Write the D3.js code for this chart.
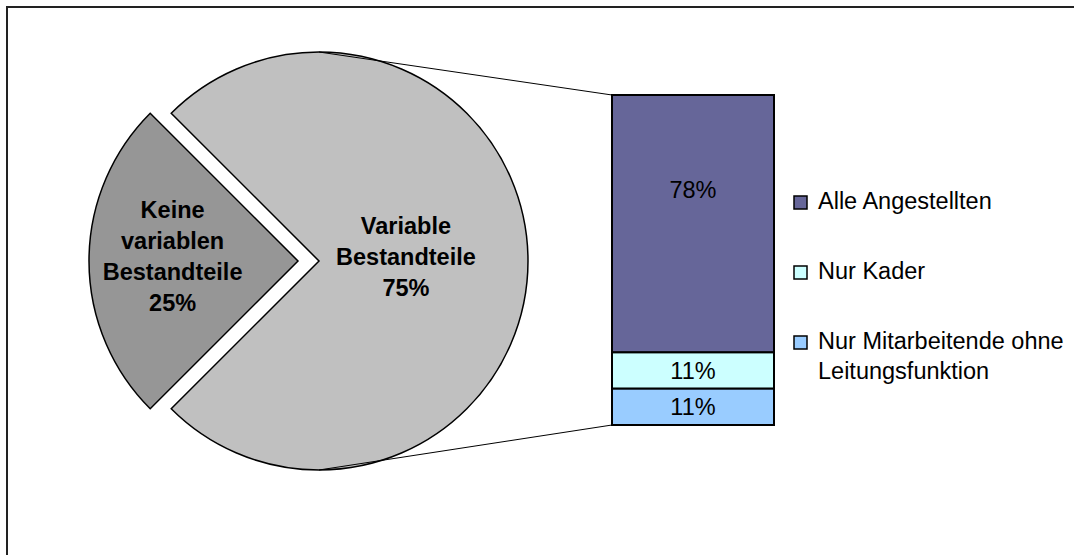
<!DOCTYPE html>
<html>
<head>
<meta charset="utf-8">
<script src="https://cdn.jsdelivr.net/npm/d3@7"></script>
<style>
  html, body { margin: 0; padding: 0; background: #fff; }
  svg { display: block; }
  text { font-family: "Liberation Sans", Arial, sans-serif; }
</style>
</head>
<body>
<svg id="chart" width="1074" height="555"></svg>
<script>
// ---- data ----
const pieCategories = ["Keine variablen Bestandteile", "Variable Bestandteile"];
const pieLabelLines = [["Keine", "variablen", "Bestandteile"], ["Variable", "Bestandteile"]];
const pieValues = [25, 75];
const barCategories = ["Alle Angestellten", "Nur Kader", "Nur Mitarbeitende ohne Leitungsfunktion"];
const barLegendLines = [["Alle Angestellten"], ["Nur Kader"], ["Nur Mitarbeitende ohne", "Leitungsfunktion"]];
const barValues = [78, 11, 11];

// ---- styles ----
const pieColors = ["#969696", "#C0C0C0"];
const barColors = ["#666699", "#CCFFFF", "#99CCFF"];

const svg = d3.select("#chart");

// frame
svg.append("rect")
  .attr("x", 7).attr("y", 7).attr("width", 1200).attr("height", 700)
  .attr("fill", "none").attr("stroke", "#222").attr("stroke-width", 2);

// ---- pie ----
const cx = 319, cy = 261, r = 209;
const explode = 21;
const pie = d3.pie().sort(null)
  .startAngle(5 * Math.PI / 4)
  .endAngle(5 * Math.PI / 4 + 2 * Math.PI);
const arcs = pie(pieValues);
const arc = d3.arc().innerRadius(0).outerRadius(r);

const pieG = svg.append("g").attr("transform", `translate(${cx},${cy})`);
const slice = pieG.selectAll("g.slice").data(arcs).enter().append("g")
  .attr("class", "slice")
  .attr("transform", (d, i) => {
    if (i !== 0) return null;
    const a = (d.startAngle + d.endAngle) / 2;
    return `translate(${Math.sin(a) * explode},${-Math.cos(a) * explode})`;
  });
slice.append("path")
  .attr("d", arc)
  .attr("fill", (d, i) => pieColors[i])
  .attr("stroke", "#000").attr("stroke-width", 1.5)
  .attr("stroke-linejoin", "miter");

const labelRadius = [0.6, 0.416];
const lineH = 31;
slice.each(function (d, i) {
  const a = (d.startAngle + d.endAngle) / 2;
  const lr = labelRadius[i] * r;
  const x = Math.sin(a) * lr;
  const y = -Math.cos(a) * lr - 5;
  const lines = pieLabelLines[i].concat([Math.round(d.data) + "%"]);
  const t = d3.select(this).append("text")
    .attr("text-anchor", "middle")
    .attr("font-weight", "bold")
    .attr("font-size", 23.5)
    .attr("fill", "#000");
  lines.forEach((ln, k) => {
    t.append("tspan")
      .attr("x", x)
      .attr("y", y + (k - (lines.length - 1) / 2) * lineH + 8.5)
      .text(ln);
  });
});

// ---- bar ----
const barX0 = 612, barX1 = 774;
const y = d3.scaleLinear().domain([0, d3.sum(barValues)]).range([95, 425]);
let cum = 0;
const stacks = barValues.map((v, i) => {
  const s = { i, v, y0: cum, y1: cum + v };
  cum += v;
  return s;
});

// connector lines
svg.append("line")
  .attr("x1", cx).attr("y1", cy - r)
  .attr("x2", barX0).attr("y2", y(0))
  .attr("stroke", "#000").attr("stroke-width", 1);
svg.append("line")
  .attr("x1", cx).attr("y1", cy + r)
  .attr("x2", barX0).attr("y2", y(d3.sum(barValues)))
  .attr("stroke", "#000").attr("stroke-width", 1);

svg.selectAll("rect.seg").data(stacks).enter().append("rect")
  .attr("class", "seg")
  .attr("x", barX0).attr("width", barX1 - barX0)
  .attr("y", d => y(d.y0)).attr("height", d => y(d.y1) - y(d.y0))
  .attr("fill", d => barColors[d.i])
  .attr("stroke", "#000").attr("stroke-width", 2);

const labelFrac = [0.366, 0.5, 0.5];
svg.selectAll("text.seglab").data(stacks).enter().append("text")
  .attr("class", "seglab")
  .attr("x", (barX0 + barX1) / 2)
  .attr("y", d => y(d.y0) + (y(d.y1) - y(d.y0)) * labelFrac[d.i] + 8.5)
  .attr("text-anchor", "middle")
  .attr("font-size", 23.5)
  .attr("fill", "#000")
  .text(d => d.v + "%");

// ---- legend ----
const legendY = [209, 279, 349];
const lg = svg.selectAll("g.leg").data(barCategories).enter().append("g").attr("class", "leg");
lg.append("rect")
  .attr("x", 794).attr("y", (d, i) => legendY[i] - 13)
  .attr("width", 13).attr("height", 13)
  .attr("fill", (d, i) => barColors[i])
  .attr("stroke", "#000").attr("stroke-width", 1.5);
lg.each(function (d, i) {
  const t = d3.select(this).append("text")
    .attr("font-size", 23.5).attr("fill", "#000");
  barLegendLines[i].forEach((ln, k) => {
    t.append("tspan").attr("x", 818).attr("y", legendY[i] + k * 30).text(ln);
  });
});
</script>
</body>
</html>
